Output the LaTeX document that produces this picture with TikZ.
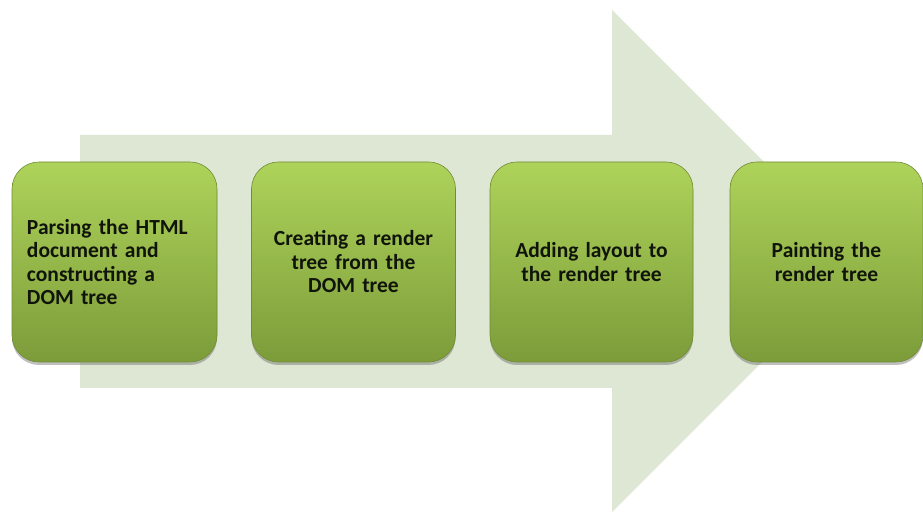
\documentclass[tikz,border=0pt]{standalone}
\usepackage{fontspec}
\setmainfont{Carlito}
\usetikzlibrary{shadows}
\definecolor{arrowfill}{HTML}{DEE7D4}
\definecolor{boxtop}{HTML}{AED35A}
\definecolor{boxbot}{HTML}{7C9C3A}
\definecolor{txt}{HTML}{10140A}
\tikzset{
  stepbox/.style={rounded corners=27pt, top color=boxtop, bottom color=boxbot,
    draw=boxbot!90!black, line width=0.6pt,
    drop shadow={shadow xshift=0pt, shadow yshift=-3pt, opacity=0.35, fill=black!70},
    minimum height=200pt, inner sep=0pt,
    font=\fontsize{21.5}{23.5}\selectfont\bfseries, text=txt},
}
\begin{document}
\begin{tikzpicture}[x=1pt,y=1pt]
\useasboundingbox (0,0) rectangle (923,513);
\fill[white] (0,0) rectangle (923,513);
% big arrow
\fill[arrowfill] (80,378) -- (612,378) -- (612,503) -- (863,252) -- (612,1) -- (612,125) -- (80,125) -- cycle;
% boxes
\node[stepbox, minimum width=205pt, text width=175pt, align=left] (b1) at (114.5,251) {Parsing the HTML\\document and\\constructing a\\DOM tree};
\node[stepbox, minimum width=204pt, text width=190pt, align=center] (b2) at (353.5,251) {Creating a render\\tree from the\\DOM tree};
\node[stepbox, minimum width=203pt, text width=190pt, align=center] (b3) at (591.5,251) {Adding layout to\\the render tree};
\node[stepbox, minimum width=193pt, text width=180pt, align=center] (b4) at (826.5,251) {Painting the\\render tree};
\end{tikzpicture}
\end{document}
